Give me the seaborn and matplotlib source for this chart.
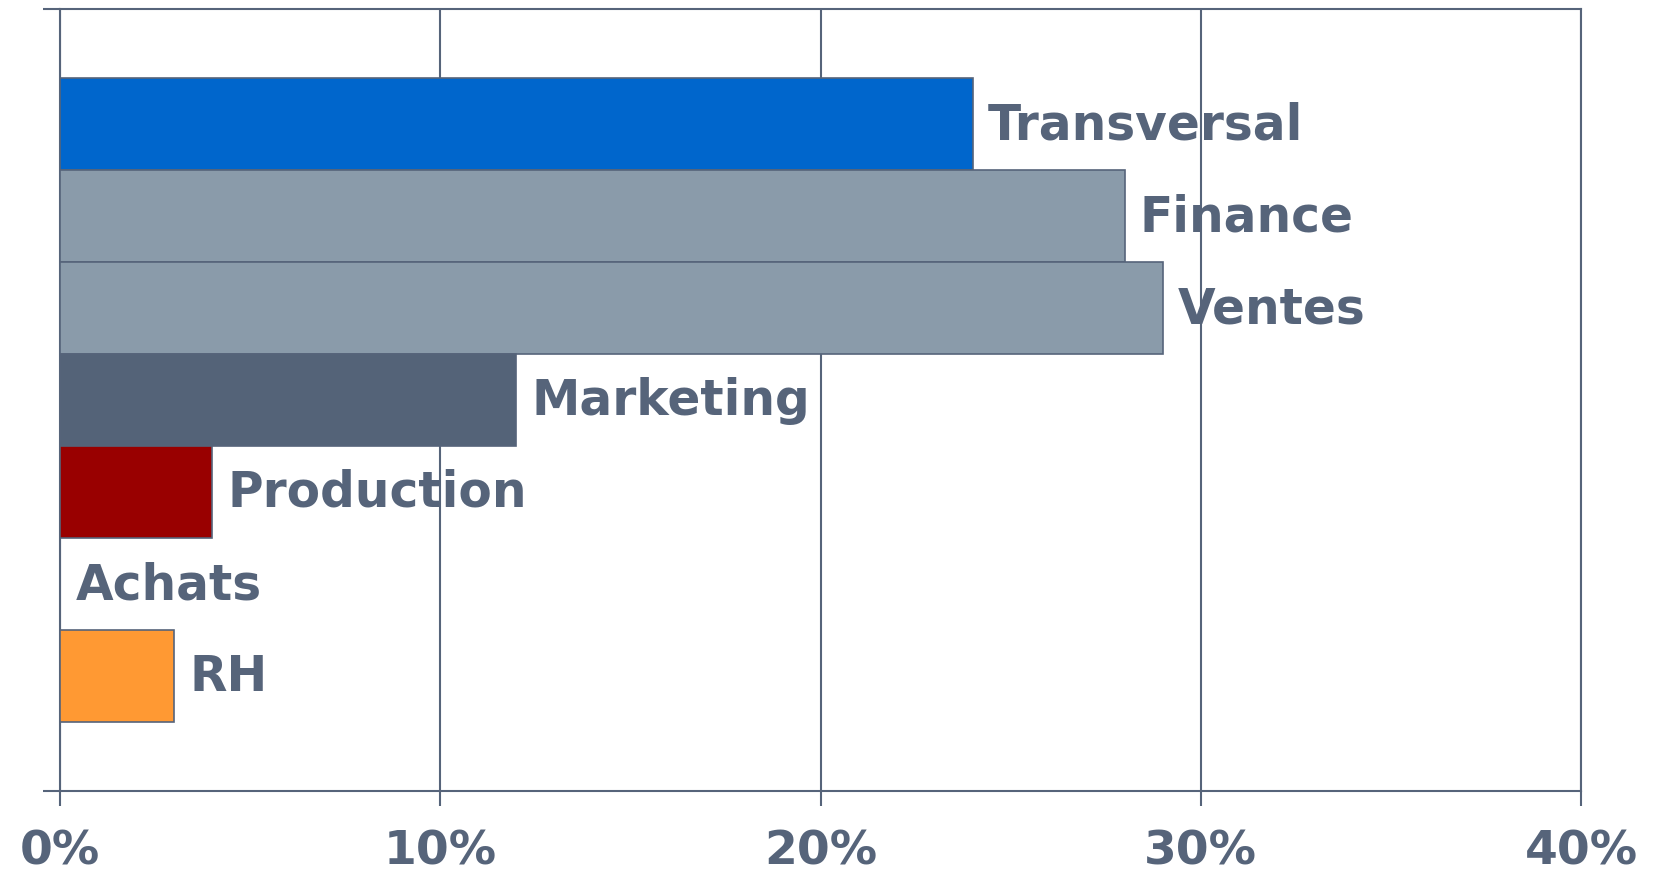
import numpy as np
import pandas as pd
import matplotlib
matplotlib.use('Agg')
import matplotlib.pyplot as plt
import seaborn as sns

categories = ['Transversal', 'Finance', 'Ventes', 'Marketing', 'Production', 'Achats', 'RH']
shares = [24, 28, 29, 12, 4, 0, 3]
bar_colors = ['#0066CC', '#8A9BAA', '#8A9BAA', '#546378', '#990000', '#8A9BAA', '#FF9933']
x_ticks = [0, 10, 20, 30, 40]
x_tick_labels = ['0%', '10%', '20%', '30%', '40%']

slate = '#56647A'

sns.set_style('white')
plt.rcParams['font.family'] = ['DejaVu Sans']

df = pd.DataFrame({'cat': categories, 'share': shares})

fig = plt.figure(figsize=(16.55, 8.78), dpi=100)
ax = fig.add_axes([60 / 1655, 86 / 878, 1521 / 1655, 782 / 878])

sns.barplot(data=df, x='share', y='cat', hue='cat', palette=bar_colors,
            saturation=1, width=1.0, edgecolor=slate, linewidth=1.2,
            legend=False, orient='h', ax=ax, zorder=3)

ax.set_xlim(0, 40)
ax.set_ylim(len(categories) - 0.5 + 0.75, -0.5 - 0.75)

for i, (cat, v) in enumerate(zip(categories, shares)):
    ax.annotate(cat, xy=(v, i), xytext=(11, 0), textcoords='offset points',
                va='center', ha='left', fontsize=35, fontweight='bold',
                color=slate, zorder=4)

ax.set_xticks(x_ticks)
ax.set_xticklabels(x_tick_labels, fontsize=34, fontweight='bold', color=slate)
ax.set_yticks([len(categories) - 0.5 + 0.75, -0.5 - 0.75])
ax.set_yticklabels(['', ''])
ax.tick_params(axis='x', bottom=True, direction='out', length=11, width=1.5,
               color=slate, pad=16)
ax.tick_params(axis='y', left=True, direction='out', length=12, width=1.5,
               color=slate)
ax.set_xlabel('')
ax.set_ylabel('')

ax.grid(axis='x', color=slate, linewidth=1.5, zorder=0)
ax.grid(axis='y', visible=False)
ax.set_axisbelow(True)
for s in ax.spines.values():
    s.set_visible(True)
    s.set_color(slate)
    s.set_linewidth(1.5)

fig.savefig('out.png', dpi=100)
